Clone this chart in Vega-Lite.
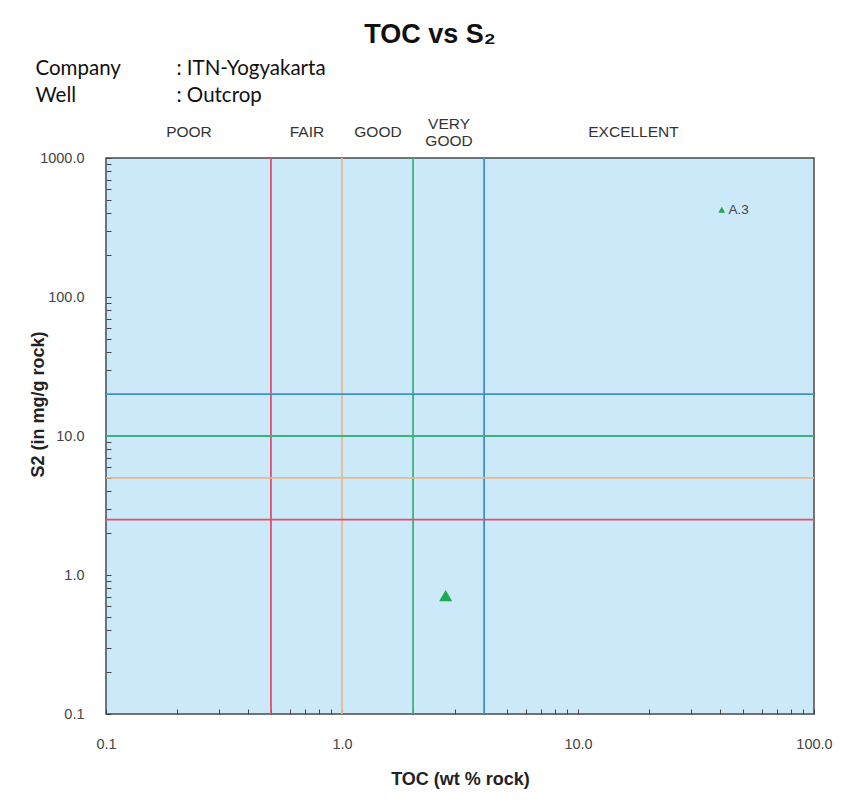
{
  "$schema": "https://vega.github.io/schema/vega-lite/v6.json",
  "width": 708,
  "height": 556,
  "autosize": {"type": "none"},
  "padding": {"left": 106, "top": 158, "right": 37, "bottom": 89},
  "background": "white",
  "title": {
    "text": "TOC vs S₂",
    "anchor": "middle",
    "font": "Liberation Sans",
    "fontSize": 27,
    "fontWeight": "bold",
    "color": "#111111",
    "dx": -30,
    "dy": -5
  },
  "config": {
    "view": {"fill": "#cce9f9", "stroke": "#4a4a4a", "strokeWidth": 1.5}
  },
  "datasets": {
    "thresholds": [
      {"level": "fair", "toc": 0.5, "s2": 2.5},
      {"level": "good", "toc": 1, "s2": 5},
      {"level": "very good", "toc": 2, "s2": 10},
      {"level": "excellent", "toc": 4, "s2": 20}
    ],
    "samples": [
      {"sample": "A.3", "toc": 2.75, "s2": 0.71}
    ],
    "categories": [
      {"category": "POOR", "toc": 0.2236},
      {"category": "FAIR", "toc": 0.7071},
      {"category": "GOOD", "toc": 1.414},
      {"category": "VERY GOOD", "toc": 2.828},
      {"category": "EXCELLENT", "toc": 17.1}
    ]
  },
  "layer": [
    {
      "data": {"name": "thresholds"},
      "mark": {"type": "rule", "strokeWidth": 1.8},
      "encoding": {
        "x": {
          "field": "toc",
          "type": "quantitative",
          "scale": {"type": "log", "domain": [0.1, 100], "nice": false},
          "axis": {
            "orient": "bottom",
            "values": [0.1, 0.2, 0.3, 0.4, 0.5, 0.6, 0.7, 0.8, 0.9, 1, 2, 3, 4, 5, 6, 7, 8, 9, 10, 20, 30, 40, 50, 60, 70, 80, 90, 100],
            "labelExpr": "indexof([0.1, 1, 10, 100], datum.value) >= 0 ? format(datum.value, '.1f') : ''",
            "grid": false,
            "domain": false,
            "tickSize": -5,
            "tickColor": "#444444",
            "tickWidth": 1,
            "labelFlush": false,
            "labelOverlap": false,
            "labelFont": "Liberation Sans",
            "labelFontSize": 14.5,
            "labelColor": "#444444",
            "labelPadding": 28,
            "title": "TOC (wt % rock)",
            "titleFont": "Liberation Sans",
            "titleFontSize": 18,
            "titleFontWeight": "bold",
            "titleColor": "#222222",
            "titleY": 65,
            "titleBaseline": "middle"
          }
        },
        "color": {
          "field": "level",
          "type": "nominal",
          "scale": {"domain": ["fair", "good", "very good", "excellent"], "range": ["#e0506a", "#e8b890", "#3cb37a", "#3f8fd2"]},
          "legend": null
        }
      }
    },
    {
      "data": {"name": "thresholds"},
      "mark": {"type": "rule", "strokeWidth": 1.8},
      "encoding": {
        "y": {
          "field": "s2",
          "type": "quantitative",
          "scale": {"type": "log", "domain": [0.1, 1000], "nice": false},
          "axis": {
            "orient": "left",
            "values": [0.1, 0.2, 0.3, 0.4, 0.5, 0.6, 0.7, 0.8, 0.9, 1, 2, 3, 4, 5, 6, 7, 8, 9, 10, 20, 30, 40, 50, 60, 70, 80, 90, 100, 200, 300, 400, 500, 600, 700, 800, 900, 1000],
            "labelExpr": "indexof([0.1, 1, 10, 100, 1000], datum.value) >= 0 ? format(datum.value, '.1f') : ''",
            "grid": false,
            "domain": false,
            "tickSize": -5,
            "tickColor": "#444444",
            "tickWidth": 1,
            "labelOverlap": false,
            "labelFont": "Liberation Sans",
            "labelFontSize": 14.5,
            "labelColor": "#444444",
            "labelPadding": 27,
            "title": "S2 (in mg/g rock)",
            "titleFont": "Liberation Sans",
            "titleFontSize": 18,
            "titleFontWeight": "bold",
            "titleColor": "#222222",
            "titleX": -68,
            "titleY": 246,
            "titleBaseline": "middle",
            "titleAlign": "center"
          }
        },
        "color": {
          "field": "level",
          "type": "nominal",
          "scale": {"domain": ["fair", "good", "very good", "excellent"], "range": ["#e0506a", "#e8b890", "#3cb37a", "#3f8fd2"]},
          "legend": null
        }
      }
    },
    {
      "data": {"name": "samples"},
      "mark": {"type": "point", "filled": true, "size": 170, "color": "#1aa850", "opacity": 1},
      "encoding": {
        "x": {
          "field": "toc",
          "type": "quantitative",
          "scale": {"type": "log", "domain": [0.1, 100], "nice": false},
          "axis": null
        },
        "y": {
          "field": "s2",
          "type": "quantitative",
          "scale": {"type": "log", "domain": [0.1, 1000], "nice": false},
          "axis": {
            "orient": "right",
            "domain": false,
            "ticks": false,
            "labels": false,
            "grid": false,
            "title": [": ITN-Yogyakarta", ": Outcrop"],
            "titleAngle": 0,
            "titleX": -638,
            "titleY": -90,
            "titleAlign": "left",
            "titleBaseline": "middle",
            "titleFont": "Lato",
            "titleFontSize": 20.5,
            "titleFontWeight": "normal",
            "titleColor": "#111111",
            "titleLineHeight": 27
          }
        },
        "shape": {
          "field": "sample",
          "type": "nominal",
          "scale": {"domain": ["A.3"], "range": ["triangle-up"]},
          "legend": {
            "orient": "none",
            "legendX": 609,
            "legendY": 45,
            "title": null,
            "padding": 0,
            "symbolSize": 45,
            "symbolFillColor": "#1aa850",
            "symbolStrokeWidth": 0,
            "labelFont": "Liberation Sans",
            "labelFontSize": 13.5,
            "labelColor": "#444444",
            "labelOffset": 0
          }
        }
      }
    },
    {
      "data": {"name": "categories"},
      "mark": {"type": "rule", "opacity": 0},
      "encoding": {
        "x": {
          "field": "toc",
          "type": "quantitative",
          "scale": {"type": "log", "domain": [0.1, 100], "nice": false},
          "axis": {
            "orient": "top",
            "values": [0.2236, 0.7071, 1.414, 2.828, 17.1],
            "labelExpr": "datum.value < 0.4 ? 'POOR' : datum.value < 1 ? 'FAIR' : datum.value < 2 ? 'GOOD' : datum.value < 4 ? ['VERY', 'GOOD'] : 'EXCELLENT'",
            "grid": false,
            "domain": false,
            "ticks": false,
            "labelFlush": false,
            "labelOverlap": false,
            "labelBaseline": "middle",
            "labelFont": "Liberation Sans",
            "labelFontSize": 15.5,
            "labelColor": "#333333",
            "labelLineHeight": 17,
            "labelPadding": {"condition": {"test": "datum.value > 2 && datum.value < 4", "value": 35}, "value": 27},
            "title": ["Company", "Well"],
            "titleAngle": 0,
            "titleX": -71,
            "titleY": -90,
            "titleAlign": "left",
            "titleBaseline": "middle",
            "titleFont": "Lato",
            "titleFontSize": 20.5,
            "titleFontWeight": "normal",
            "titleColor": "#111111",
            "titleLineHeight": 27
          }
        }
      }
    }
  ],
  "resolve": {"axis": {"x": "independent", "y": "independent"}}
}
